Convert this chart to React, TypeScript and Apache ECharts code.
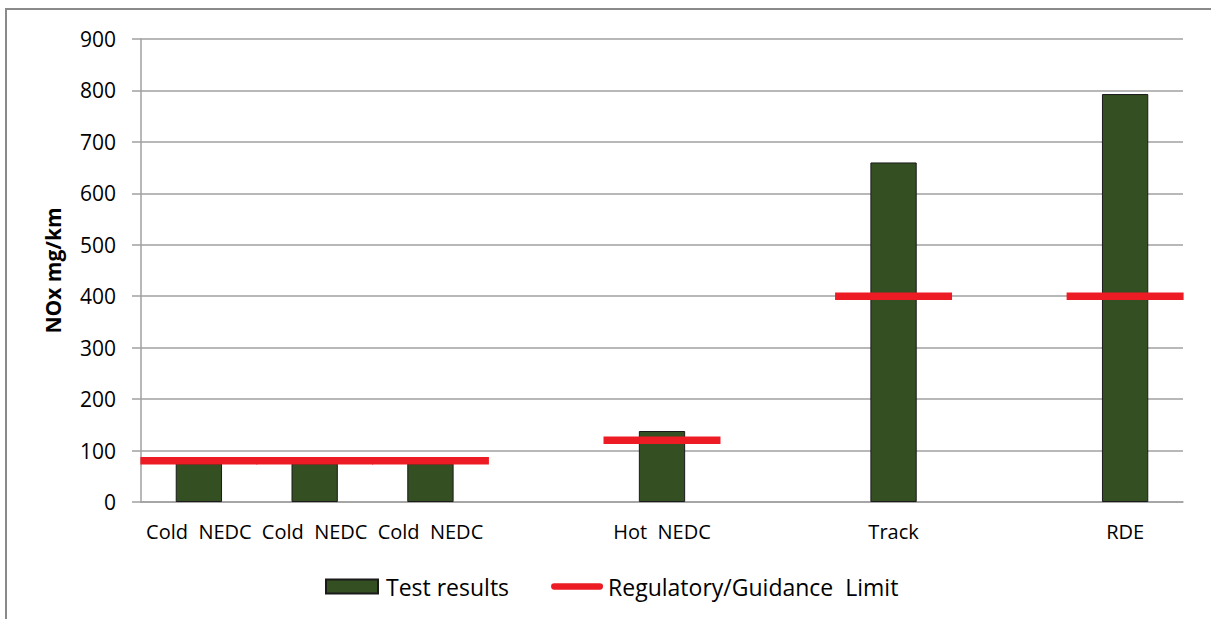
import React, { useEffect, useRef } from "react";
import * as echarts from "echarts";

const categories = ["Cold  NEDC", "Cold  NEDC", "Cold  NEDC", "", "Hot  NEDC", "", "Track", "", "RDE"];
const testResults: (number | string)[] = [75, 75, 75, "-", 138, "-", 660, "-", 793];
const limitPoints: [number, number][] = [
  [0, 80],
  [1, 80],
  [2, 80],
  [4, 120],
  [6, 400],
  [8, 400],
];
const yTicks = { min: 0, max: 900, interval: 100 };

const FONT = "Open Sans";

export default function App() {
  const ref = useRef<HTMLDivElement>(null);
  useEffect(() => {
    document.body.style.margin = "0";
    const chart = echarts.init(ref.current!, undefined, { renderer: "svg" });
    chart.setOption({
      animation: false,
      backgroundColor: "#fff",
      textStyle: { fontFamily: FONT },
      graphic: [
        {
          type: "rect",
          shape: { x: 6, y: 9, width: 1220, height: 630 },
          style: { fill: "none", stroke: "#8a8a8a", lineWidth: 2 },
          silent: true,
          z: -10,
        },
      ],
      grid: { left: 141, right: 28, top: 39, bottom: 117 },
      legend: {
        left: 320,
        top: 570,
        itemWidth: 52,
        itemHeight: 14,
        itemGap: 42,
        textStyle: { fontFamily: FONT, fontSize: 23, color: "#000", lineHeight: 23 },
        data: [
          { name: "Test results", icon: "rect", textStyle: { padding: [0, 0, 0, 3] } },
          {
            name: "Regulatory/Guidance  Limit",
            icon: "path://M3.5,0 L54.5,0 A3.5,3.5 0 0 1 54.5,7 L3.5,7 A3.5,3.5 0 0 1 3.5,0 Z",
            textStyle: { padding: [0, 0, 0, 0] },
          },
        ],
      },
      xAxis: {
        type: "category",
        data: categories,
        axisLine: { show: true, lineStyle: { color: "#a0a0a0", width: 1.5 } },
        axisTick: { show: false },
        axisLabel: { interval: 0, fontFamily: FONT, fontSize: 20, color: "#000", margin: 19 },
        splitLine: { show: false },
      },
      yAxis: {
        type: "value",
        min: yTicks.min,
        max: yTicks.max,
        interval: yTicks.interval,
        name: "NOx mg/km",
        nameLocation: "middle",
        nameRotate: 90,
        nameGap: 78,
        nameTextStyle: { fontFamily: FONT, fontSize: 21, fontWeight: "bold", color: "#000" },
        axisLine: { show: true, lineStyle: { color: "#a0a0a0", width: 1.5 } },
        axisTick: { show: true, length: 9, lineStyle: { color: "#a0a0a0", width: 1.5 } },
        axisLabel: { fontFamily: FONT, fontSize: 21, color: "#000", margin: 25 },
        splitLine: { show: true, lineStyle: { color: "#a0a0a0", width: 1.5 } },
      },
      series: [
        {
          name: "Test results",
          type: "bar",
          data: testResults,
          barWidth: "40%",
          itemStyle: { color: "#344F22", borderColor: "#1a1a1a", borderWidth: 1 },
        },
        {
          name: "Regulatory/Guidance  Limit",
          type: "custom",
          data: limitPoints,
          encode: { x: 0, y: 1 },
          itemStyle: { color: "#ED1C24" },
          renderItem: (params: any, api: any) => {
            const c = api.coord([api.value(0), api.value(1)]);
            const w = api.size([1, 0])[0];
            return {
              type: "line",
              shape: { x1: c[0] - w / 2 - 0.6, y1: c[1], x2: c[0] + w / 2 + 0.6, y2: c[1] },
              style: { stroke: "#ED1C24", lineWidth: 7.5, lineCap: "butt" },
            };
          },
          z: 3,
        },
      ],
    });
    return () => chart.dispose();
  }, []);
  return <div ref={ref} style={{ width: 1211, height: 619 }} />;
}
